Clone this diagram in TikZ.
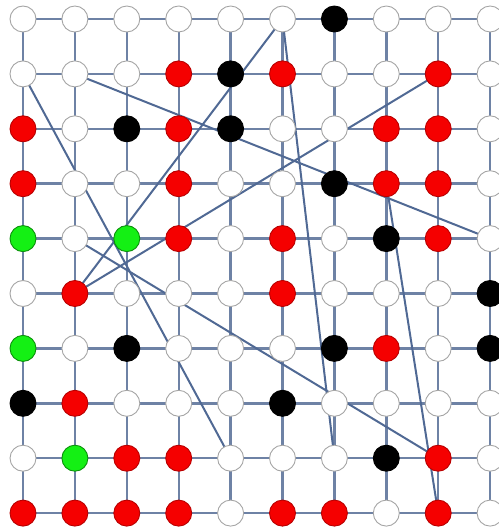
\documentclass[tikz,border=0pt]{standalone}
\pgfdeclarelayer{background}
\pgfsetlayers{background,main}
\definecolor{gridblue}{RGB}{110,130,165}
\definecolor{linkblue}{RGB}{80,105,148}
\definecolor{dotgray}{RGB}{165,165,165}
\definecolor{dotred}{RGB}{245,0,0}
\definecolor{dotgreen}{RGB}{20,240,20}
\tikzset{
  gridline/.style={draw=gridblue,line width=2.4bp},
  link/.style={draw=linkblue,line width=2bp},
  dot/.style={circle,line width=0.9bp,minimum size=26bp,inner sep=0pt},
  cw/.style={dot,fill=white,draw=dotgray},
  cr/.style={dot,fill=dotred,draw=dotred!75!black},
  ck/.style={dot,fill=black,draw=black},
  cg/.style={dot,fill=dotgreen,draw=dotgreen!60!black},
}
\begin{document}
\begin{tikzpicture}[x=1bp,y=-1bp]
\useasboundingbox (0,0) rectangle (499,531);
\foreach \row [count=\r from 0] in {
  {cw,cw,cw,cw,cw,cw,ck,cw,cw,cw},
  {cw,cw,cw,cr,ck,cr,cw,cw,cr,cw},
  {cr,cw,ck,cr,ck,cw,cw,cr,cr,cw},
  {cr,cw,cw,cr,cw,cw,ck,cr,cr,cw},
  {cg,cw,cg,cr,cw,cr,cw,ck,cr,cw},
  {cw,cr,cw,cw,cw,cr,cw,cw,cw,ck},
  {cg,cw,ck,cw,cw,cw,ck,cr,cw,ck},
  {ck,cr,cw,cw,cw,ck,cw,cw,cw,cw},
  {cw,cg,cr,cr,cw,cw,cw,ck,cr,cw},
  {cr,cr,cr,cr,cw,cr,cr,cw,cr,cw}} {
  \foreach \s [count=\c from 0] in \row {
    \node[\s] (n-\r-\c) at ({23+51.9*\c},{19+54.9*\r}) {};
  }
}
\begin{pgfonlayer}{background}
\foreach \r in {0,...,9} {
  \foreach \c [evaluate=\c as \d using int(\c+1)] in {0,...,8} {
    \draw[gridline] (n-\r-\c.center) -- (n-\r-\d.center);
    \draw[gridline] (n-\c-\r.center) -- (n-\d-\r.center);
  }
}
\draw[link] (n-1-0.center) -- (n-8-4.center);
\draw[link] (n-1-1.center) -- (n-4-9.center);
\draw[link] (n-5-1.center) -- (n-0-5.center);
\draw[link] (n-5-1.center) -- (n-1-8.center);
\draw[link] (n-0-5.center) -- (n-8-6.center);
\draw[link] (n-4-1.center) -- (n-8-8.center);
\draw[link] (n-3-7.center) -- (n-9-8.center);
\end{pgfonlayer}
\end{tikzpicture}
\end{document}
